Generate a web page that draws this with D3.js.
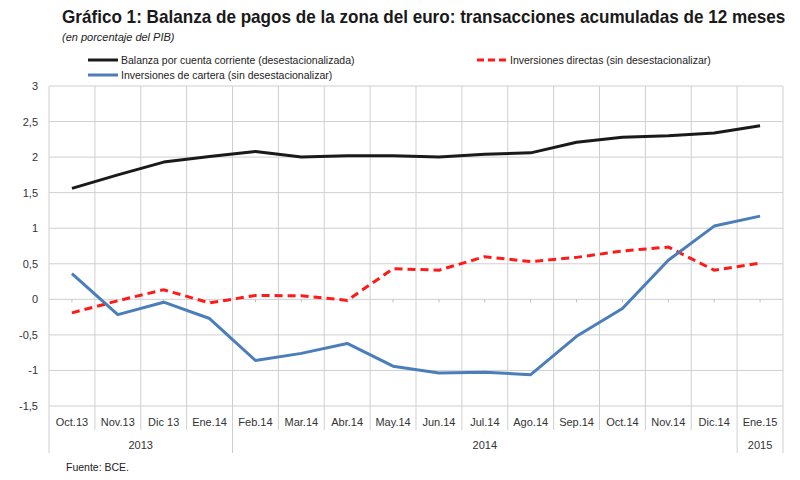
<!DOCTYPE html>
<html>
<head>
<meta charset="utf-8">
<script src="https://cdn.jsdelivr.net/npm/d3@7"></script>
<style>
  body { margin: 0; background: #fff; }
  svg { display: block; font-family: "Liberation Sans", Arial, sans-serif; }
</style>
</head>
<body>
<svg class="chart"></svg>
<script>
var width = 800, height = 480;

// months shown on the x axis
var months = ["Oct.13", "Nov.13", "Dic 13", "Ene.14", "Feb.14", "Mar.14", "Abr.14", "May.14",
              "Jun.14", "Jul.14", "Ago.14", "Sep.14", "Oct.14", "Nov.14", "Dic.14", "Ene.15"];

// year groups under the months (first and last month of each group)
var years = ["2013", "2014", "2015"];
var yearFrom = ["Oct.13", "Feb.14", "Ene.15"];
var yearTo = ["Ene.14", "Dic.14", "Ene.15"];

// series, % of GDP
var balanza = [1.56, 1.75, 1.93, 2.01, 2.08, 2.00, 2.02, 2.02, 2.00, 2.04, 2.06, 2.21, 2.28, 2.30, 2.34, 2.44];
var directas = [-0.19, -0.02, 0.135, -0.05, 0.055, 0.05, -0.015, 0.43, 0.41, 0.60, 0.53, 0.59, 0.68, 0.735, 0.41, 0.51];
var cartera = [0.36, -0.215, -0.04, -0.27, -0.86, -0.76, -0.62, -0.94, -1.035, -1.025, -1.06, -0.52, -0.13, 0.55, 1.03, 1.17];

var yTicks = [-1.5, -1, -0.5, 0, 0.5, 1, 1.5, 2, 2.5, 3];

var seriesNames = ["Balanza por cuenta corriente (desestacionalizada)",
                   "Inversiones directas (sin desestacionalizar)",
                   "Inversiones de cartera (sin desestacionalizar)"];

var chart = d3.select(".chart")
    .attr("width", width)
    .attr("height", height)

var plotLeft = 49, plotRight = 783, plotTop = 86, plotBottom = 406;

var x = d3.scaleBand()
    .domain(months)
    .range([plotLeft, plotRight])
    .paddingInner(0).paddingOuter(0);

var y = d3.scaleLinear()
    .domain([-1.5, 3])
    .range([plotBottom, plotTop]);

var grid = "#cfcfcf";

// horizontal grid
chart.append("g")
    .selectAll("line")
    .data(yTicks)
    .enter().append("line")
    .attr("x1", plotLeft).attr("x2", plotRight)
    .attr("y1", function(d) { return y(d); })
    .attr("y2", function(d) { return y(d); })
    .attr("stroke", grid).attr("stroke-width", 1);

// vertical grid, between months; group edges go further down
var groupEdges = yearFrom.map(function(m) { return x(m); }).concat([plotRight]);
var edges = months.map(function(m) { return x(m); }).concat([plotRight]);
chart.append("g")
    .selectAll("line")
    .data(edges)
    .enter().append("line")
    .attr("x1", function(d) { return d; })
    .attr("x2", function(d) { return d; })
    .attr("y1", plotTop)
    .attr("y2", function(d) {
        return groupEdges.some(function(g) { return Math.abs(g - d) < 0.5; }) ? 453 : 430;
    })
    .attr("stroke", grid).attr("stroke-width", 1);

// small ticks on the zero line
chart.append("g")
    .attr("transform", "translate(0," + y(0) + ")")
    .call(d3.axisBottom(x).tickSizeInner(3).tickSizeOuter(0).tickFormat(""))
    .call(function(g) {
        g.select(".domain").remove();
        g.selectAll("line").attr("stroke", "#bdbdbd");
    });

// y axis labels
chart.append("g")
    .attr("transform", "translate(" + plotLeft + ",0)")
    .call(d3.axisLeft(y).tickValues(yTicks).tickSize(0).tickPadding(11)
        .tickFormat(function(d) { return String(d).replace(".", ","); }))
    .call(function(g) {
        g.select(".domain").remove();
        g.selectAll("text")
            .attr("font-size", 11)
            .attr("font-family", "Liberation Sans, Arial, sans-serif")
            .attr("fill", "#333");
    });

// month labels
chart.append("g")
    .attr("transform", "translate(0," + plotBottom + ")")
    .call(d3.axisBottom(x).tickSize(0).tickPadding(12))
    .call(function(g) {
        g.select(".domain").remove();
        g.selectAll("text")
            .attr("font-size", 11)
            .attr("font-family", "Liberation Sans, Arial, sans-serif")
            .attr("fill", "#333");
    });

// year labels
chart.append("g")
    .selectAll("text")
    .data(years)
    .enter().append("text")
    .attr("x", function(d, i) { return (x(yearFrom[i]) + x(yearTo[i]) + x.bandwidth()) / 2; })
    .attr("y", 449)
    .attr("text-anchor", "middle")
    .attr("font-size", 11)
    .attr("fill", "#333")
    .text(function(d) { return d; });

// lines
var line = d3.line()
    .x(function(d, i) { return x(months[i]) + x.bandwidth() / 2; })
    .y(function(d) { return y(d); });

chart.append("path")
    .datum(directas)
    .attr("d", line)
    .attr("fill", "none")
    .attr("stroke", "#ff1a1a")
    .attr("stroke-width", 3)
    .attr("stroke-dasharray", "8,5");

chart.append("path")
    .datum(cartera)
    .attr("d", line)
    .attr("fill", "none")
    .attr("stroke", "#4a7ebb")
    .attr("stroke-width", 3)
    .attr("stroke-linejoin", "round");

chart.append("path")
    .datum(balanza)
    .attr("d", line)
    .attr("fill", "none")
    .attr("stroke", "#1a1a1a")
    .attr("stroke-width", 3)
    .attr("stroke-linejoin", "round");

// title, squeezed horizontally to look like the narrow original font
var title = chart.append("text")
    .attr("font-weight", "bold")
    .attr("font-size", 18)
    .attr("fill", "#1a1a1a")
    .text("Gráfico 1: Balanza de pagos de la zona del euro: transacciones acumuladas de 12 meses");
var titleW = title.node().getComputedTextLength();
title.attr("transform", "translate(62,23) scale(" + (724 / titleW) + ",1)");

chart.append("text")
    .attr("x", 62).attr("y", 41)
    .attr("font-style", "italic")
    .attr("font-size", 11)
    .attr("fill", "#222")
    .text("(en porcentaje del PIB)");

// legend
var legend = [
    {x: 88, y: 60, color: "#1a1a1a", dash: null},
    {x: 477, y: 60, color: "#ff1a1a", dash: "7,4"},
    {x: 88, y: 75, color: "#4a7ebb", dash: null}
];
var lg = chart.append("g")
    .selectAll("g")
    .data(legend)
    .enter().append("g");
lg.append("line")
    .attr("x1", function(d) { return d.x; })
    .attr("x2", function(d) { return d.x + 30; })
    .attr("y1", function(d) { return d.y; })
    .attr("y2", function(d) { return d.y; })
    .attr("stroke", function(d) { return d.color; })
    .attr("stroke-width", 3)
    .attr("stroke-dasharray", function(d) { return d.dash; });
lg.append("text")
    .attr("x", function(d) { return d.x + 33; })
    .attr("y", function(d) { return d.y + 4; })
    .attr("font-size", 10.5)
    .attr("fill", "#222")
    .text(function(d, i) { return seriesNames[i]; });

// source
chart.append("text")
    .attr("x", 66).attr("y", 471)
    .attr("font-size", 10.5)
    .attr("fill", "#222")
    .text("Fuente: BCE.");
</script>
</body>
</html>
